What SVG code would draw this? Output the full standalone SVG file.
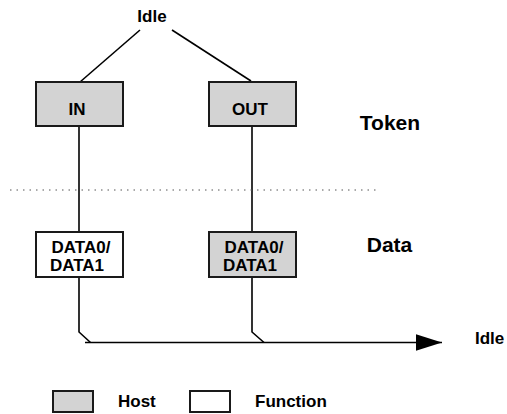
<svg xmlns="http://www.w3.org/2000/svg" width="507" height="414" viewBox="0 0 507 414">
<defs>
<style>
.t{font-family:"Liberation Sans",Arial,sans-serif;font-weight:bold;font-size:17px;fill:#000}
.big{font-size:21px}
.box{stroke:#1a1a1a;stroke-width:2}
.host{fill:#d3d3d3}
.func{fill:#fff}
.ln{stroke:#000;stroke-width:1.6;fill:none}
</style>
<marker id="arr" markerWidth="26" markerHeight="17" refX="26" refY="8.25" orient="auto" markerUnits="userSpaceOnUse">
<path d="M0,0 L26,8.25 L0,16.5 Z" fill="#000"/>
</marker>
</defs>
<rect width="507" height="414" fill="#fff"/>
<g id="connectors">
<line class="ln" x1="140" y1="30" x2="80" y2="82"/>
<line class="ln" x1="172" y1="30" x2="251" y2="81"/>
<line class="ln" x1="79" y1="126" x2="79" y2="232"/>
<line class="ln" x1="252" y1="126" x2="252" y2="232"/>
<polyline class="ln" points="79,277 79,332 90.5,342.5"/>
<polyline class="ln" points="252,277 252,332 264,342.5"/>
<line class="ln" x1="85" y1="342.5" x2="442" y2="342.5" marker-end="url(#arr)"/>
<line x1="10" y1="190" x2="380" y2="190" stroke="#555" stroke-width="1" stroke-dasharray="1.5,5"/>
</g>
<g id="idle-top"><text class="t" x="152" y="22" text-anchor="middle">Idle</text></g>
<g id="in"><rect class="box host" x="36" y="82" width="87" height="44"/><text class="t" x="77" y="114.5" text-anchor="middle">IN</text></g>
<g id="out"><rect class="box host" x="209" y="82" width="87" height="44"/><text class="t" x="250" y="114.5" text-anchor="middle">OUT</text></g>
<g id="data-func"><rect class="box func" x="36" y="232" width="87" height="45"/><text class="t" x="81" y="252.5" text-anchor="middle">DATA0/</text><text class="t" x="77" y="270.5" text-anchor="middle">DATA1</text></g>
<g id="data-host"><rect class="box host" x="209" y="232" width="87" height="45"/><text class="t" x="254" y="252.5" text-anchor="middle">DATA0/</text><text class="t" x="250" y="270.5" text-anchor="middle">DATA1</text></g>
<g id="token"><text class="t big" x="390" y="130" text-anchor="middle">Token</text></g>
<g id="data"><text class="t big" x="389.5" y="252" text-anchor="middle">Data</text></g>
<g id="idle-end"><text class="t" x="475" y="344">Idle</text></g>
<g id="legend-host"><rect class="box host" x="53" y="391" width="40" height="21"/><text class="t" x="118" y="407">Host</text></g>
<g id="legend-function"><rect class="box func" x="190" y="391" width="40" height="21"/><text class="t" x="255" y="407">Function</text></g>
</svg>
